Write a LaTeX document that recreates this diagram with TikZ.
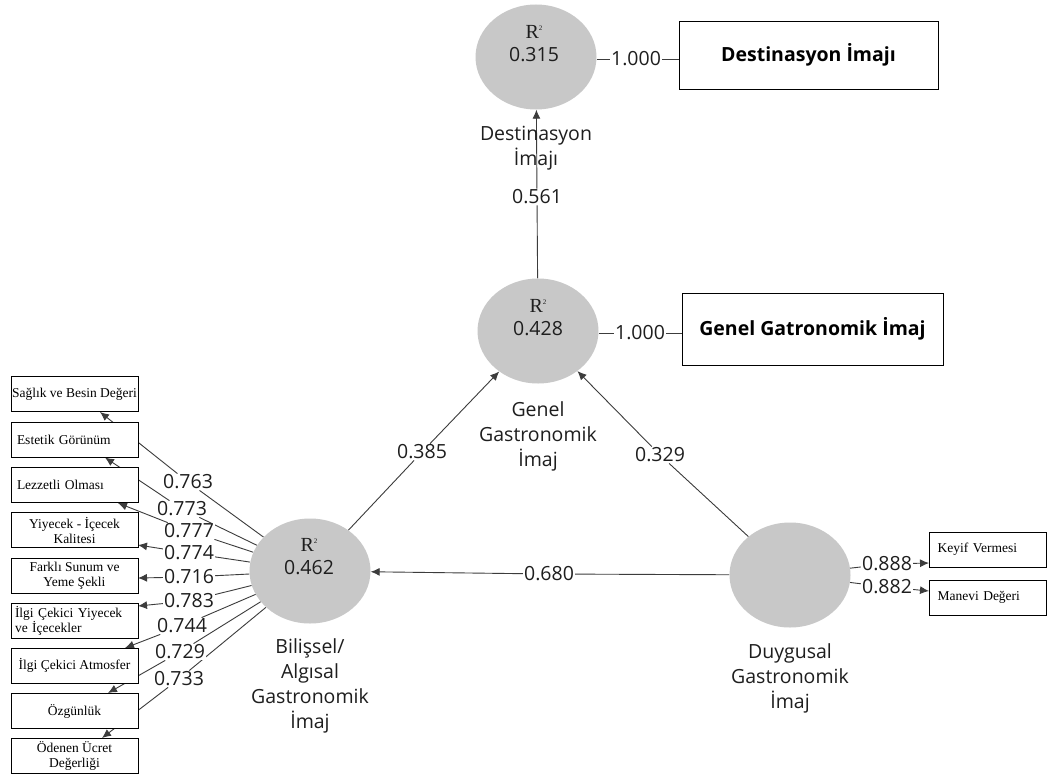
\documentclass[tikz,border=0pt]{standalone}
\usepackage{fontspec}
\setmainfont{Open Sans}
\newfontfamily\serifbox{Liberation Serif}
\usetikzlibrary{arrows.meta,backgrounds,shapes.geometric}
\definecolor{circ}{RGB}{200,200,200}
\definecolor{ln}{RGB}{60,60,60}
\definecolor{tx}{RGB}{30,30,30}
\begin{document}
\begin{tikzpicture}[x=1pt,y=-1pt,
  lv/.style={ellipse, fill=circ, minimum width=121pt, minimum height=105pt, inner sep=0pt},
  num/.style={font=\fontsize{19.5}{21}\selectfont, text=tx, fill=white, inner sep=1pt},
  rsq/.style={font=\serifbox\fontsize{20}{20}\selectfont, text=tx, inner sep=0pt},
  val/.style={font=\fontsize{19.5}{21}\selectfont, text=tx, inner sep=0pt},
  capt/.style={font=\fontsize{19.5}{25}\selectfont, text=tx, align=center, inner sep=0pt},
  ind/.style={draw=black, fill=white, line width=0.8pt, font=\serifbox\fontsize{13.5}{15}\selectfont, align=center, minimum width=127pt, minimum height=35pt, inner sep=1pt},
  big/.style={draw=black, fill=white, line width=0.8pt, font=\fontsize{19.5}{21}\selectfont\bfseries, inner sep=0pt},
  con/.style={draw=ln, line width=0.9pt},
  arr/.style={con, -{Latex[length=9pt,width=8pt]}},
]
\useasboundingbox (0,0) rectangle (1048,776);

% latent variables
\node[lv] (dest) at (536,57) {};
\node[lv] (gen) at (538,331) {};
\node[lv] (bil) at (310,571) {};
\node[lv] (duy) at (790,575) {};

\node[rsq] (rd) at (534,32) {R\raisebox{8pt}{\fontsize{7}{7}\selectfont 2}};
\node[val] (vd) at (534,55) {0.315};
\node[rsq] (rg) at (538,306) {R\raisebox{8pt}{\fontsize{7}{7}\selectfont 2}};
\node[val] (vg) at (538,329) {0.428};
\node[rsq] (rb) at (309,545) {R\raisebox{8pt}{\fontsize{7}{7}\selectfont 2}};
\node[val] (vb) at (309,568) {0.462};

% captions
\node[capt] (cd) at (536,148) {Destinasyon\\İmajı};
\node[capt] (cg) at (538,436) {Genel\\Gastronomik\\İmaj};
\node[capt] (cb) at (310,686) {Bilişsel/\\Algısal\\Gastronomik\\İmaj};
\node[capt] (cdu) at (790,678) {Duygusal\\Gastronomik\\İmaj};

% single-indicator boxes
\node[big, minimum width=259pt, minimum height=68pt] (dbox) at (808.5,55) {Destinasyon İmajı};
\node[big, minimum width=261pt, minimum height=72pt] (gbox) at (812.5,329) {Genel Gatronomik İmaj};

% Duygusal indicators
\node[ind, minimum width=117pt, align=left, text width=100pt] (kbox) at (987.5,549.5) {Keyif Vermesi};
\node[ind, minimum width=117pt, align=left, text width=100pt] (mbox) at (987.5,597.5) {Manevi Değeri};

% Bilissel indicators
\node[ind] (s1) at (74.5,394) {Sağlık ve Besin Değeri};
\node[ind, align=left, text width=115pt] (s2) at (74.5,440) {Estetik Görünüm};
\node[ind, align=left, text width=115pt] (s3) at (74.5,485) {Lezzetli Olması};
\node[ind] (s4) at (74.5,530) {Yiyecek - İçecek\\Kalitesi};
\node[ind] (s5) at (74.5,575.5) {Farklı Sunum ve\\Yeme Şekli};
\node[ind, align=left, text width=119pt] (s6) at (74.5,620.5) {İlgi Çekici Yiyecek\\ve İçecekler};
\node[ind] (s7) at (74.5,665.5) {İlgi Çekici Atmosfer};
\node[ind] (s8) at (74.5,711) {Özgünlük};
\node[ind] (s9) at (74.5,755.5) {Ödenen Ücret\\Değerliği};

% loading labels
\node[num] (l1) at (188,482) {0.763};
\node[num] (l2) at (182,509) {0.773};
\node[num] (l3) at (189,531) {0.777};
\node[num] (l4) at (189,553) {0.774};
\node[num] (l5) at (189,577) {0.716};
\node[num] (l6) at (189,601) {0.783};
\node[num] (l7) at (182,626) {0.744};
\node[num] (l8) at (180,652) {0.729};
\node[num] (l9) at (179,679) {0.733};

\node[num] (n561) at (537,197) {0.561};
\node[num] (n385) at (422,452) {0.385};
\node[num] (n329) at (660,455) {0.329};
\node[num] (n680) at (549,574) {0.680};
\node[num] (n1d) at (636,59) {1.000};
\node[num] (n1g) at (640,333) {1.000};
\node[num] (n888) at (887,564) {0.888};
\node[num] (n882) at (887,587) {0.882};

% arrow targets on indicator boxes
\coordinate (t1) at (100,412);
\coordinate (t2) at (105,457.5);
\coordinate (t3) at (118,503);
\coordinate (t4) at (138,545);
\coordinate (t5) at (138,578);
\coordinate (t6) at (138,606);
\coordinate (t7) at (125,648);
\coordinate (t8) at (108,693);
\coordinate (t9) at (102,738);
\coordinate (tk) at (929,563);
\coordinate (tm) at (929,591);

\begin{scope}[on background layer]
\fill[white] (0,0) rectangle (1048,776);
\draw[arr] (gen) -- (n561) -- (dest);
\draw[arr] (bil) -- (n385) -- (gen);
\draw[arr] (duy) -- (n329) -- (gen);
\draw[arr] (duy) -- (n680) -- (bil);
\draw[con] (dest.east |- n1d) -- (n1d) -- (n1d -| dbox.west);
\draw[con] (gen.east |- n1g) -- (n1g) -- (n1g -| gbox.west);
\draw[arr] (duy) -- (n888) -- (tk);
\draw[arr] (duy) -- (n882) -- (tm);
\draw[arr] (bil) -- (l1) -- (t1);
\draw[arr] (bil) -- (l2) -- (t2);
\draw[arr] (bil) -- (l3) -- (t3);
\draw[arr] (bil) -- (l4) -- (t4);
\draw[arr] (bil) -- (l5) -- (t5);
\draw[arr] (bil) -- (l6) -- (t6);
\draw[arr] (bil) -- (l7) -- (t7);
\draw[arr] (bil) -- (l8) -- (t8);
\draw[arr] (bil) -- (l9) -- (t9);
\end{scope}
\end{tikzpicture}
\end{document}
